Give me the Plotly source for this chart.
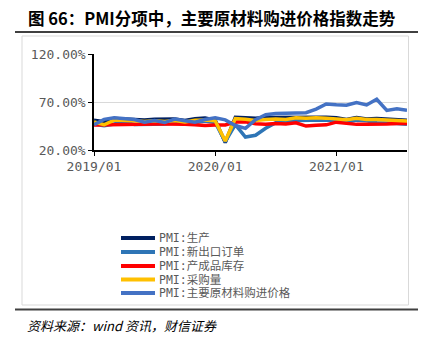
import plotly.graph_objects as go

months = [f"{y}/{m:02d}" for y in (2019, 2020, 2021) for m in range(1, 13)][:32]
tick_labels = ["2019/01", "2020/01", "2021/01"]
y_ticks = [20, 70, 120]
y_tick_text = ["20.00%", "70.00%", "120.00%"]

names = ["PMI:生产", "PMI:新出口订单", "PMI:产成品库存", "PMI:采购量", "PMI:主要原材料购进价格"]
colors = ["#002060", "#2E75B6", "#FF0000", "#FFC000", "#4472C4"]

production = [50.9, 49.5, 52.7, 52.1, 51.7, 51.3, 52.1, 51.9, 52.3, 50.8, 52.6, 53.2,
              51.3, 27.8, 54.1, 53.7, 53.2, 53.9, 54.0, 53.5, 54.0, 53.9, 54.7, 54.2,
              53.5, 51.9, 53.9, 52.2, 52.7, 51.9, 50.9, 50.9]
export_orders = [46.9, 45.2, 47.1, 49.2, 46.5, 46.3, 46.9, 47.2, 48.2, 47.0, 48.8, 50.3,
                 48.7, 28.7, 46.4, 33.5, 35.3, 42.6, 48.4, 49.1, 50.8, 51.0, 51.5, 51.3,
                 50.2, 48.8, 51.2, 50.4, 48.3, 48.1, 47.7, 46.7]
inventory = [46.1, 46.4, 46.4, 46.5, 46.5, 47.1, 47.1, 47.0, 47.1, 46.7, 46.4, 45.6,
             46.0, 46.1, 49.1, 49.3, 47.3, 46.8, 47.6, 47.1, 48.4, 44.9, 45.7, 46.2,
             49.0, 48.0, 46.7, 46.8, 46.5, 47.1, 47.6, 47.7]
purchases = [49.1, 46.3, 51.2, 51.1, 50.5, 49.7, 50.4, 49.7, 50.6, 49.1, 51.0, 51.3,
             50.4, 29.3, 52.7, 52.0, 50.8, 51.8, 52.4, 51.7, 53.6, 53.1, 53.7, 53.2,
             52.0, 51.6, 53.1, 51.7, 51.9, 51.7, 50.8, 50.3]
input_price = [46.3, 51.9, 53.5, 53.1, 51.8, 49.0, 50.7, 48.6, 52.2, 50.4, 49.0, 51.8,
               53.5, 51.4, 45.5, 42.5, 51.6, 56.8, 58.1, 58.3, 58.5, 58.8, 62.6, 68.0,
               67.1, 66.7, 69.4, 66.9, 72.8, 61.2, 62.9, 61.3]
series = [production, export_orders, inventory, purchases, input_price]

W, H = 429, 338
X0, X1, YT, YB = 94, 407, 54, 150


def px(x):
    return (x - X0) / (X1 - X0)


def py(y):
    return (YB - y) / (YB - YT)


fig = go.Figure()
for name, vals, c in zip(names, series, colors):
    fig.add_trace(go.Scatter(x=months, y=vals, mode="lines", name=name,
                             line=dict(color=c, width=3.5), showlegend=False))

tick_font = dict(family="DejaVu Sans Mono, Noto Sans CJK SC", size=13, color="#595959")

fig.update_layout(
    width=W, height=H,
    margin=dict(l=X0, r=W - X1, t=YT, b=H - YB),
    paper_bgcolor="white", plot_bgcolor="white",
    xaxis=dict(type="category", range=[0, len(months) - 1], tickmode="array",
               tickvals=tick_labels, ticktext=tick_labels, showgrid=False,
               showline=True, linecolor="black", linewidth=1.5,
               ticks="outside", ticklen=4, tickcolor="black", tickfont=tick_font),
    yaxis=dict(range=[20, 120], tickmode="array", tickvals=y_ticks, ticktext=y_tick_text,
               showgrid=True, gridcolor="#d9d9d9", gridwidth=1, zeroline=False,
               showline=True, linecolor="black", linewidth=1.5,
               ticks="outside", ticklen=4, tickcolor="black", tickfont=tick_font),
)

shapes = [
    dict(type="line", xref="paper", yref="paper", x0=px(15), x1=px(418), y0=py(32), y1=py(32),
         line=dict(color="#404040", width=2)),
    dict(type="line", xref="paper", yref="paper", x0=px(15), x1=px(418), y0=py(309.5), y1=py(309.5),
         line=dict(color="#404040", width=2)),
    dict(type="rect", xref="paper", yref="paper", x0=px(22), x1=px(408.5), y0=py(36), y1=py(305),
         line=dict(color="#d9d9d9", width=1), layer="below"),
]
annotations = [
    dict(text="<b>图 66：PMI分项中，主要原材料购进价格指数走势</b>", xref="paper", yref="paper",
         x=px(26), y=py(18), xanchor="left", yanchor="middle", showarrow=False,
         font=dict(family="Noto Sans CJK SC", size=16.5, color="black")),
    dict(text="<i>资料来源：wind 资讯，财信证券</i>", xref="paper", yref="paper",
         x=px(25), y=py(325), xanchor="left", yanchor="middle", showarrow=False,
         font=dict(family="Noto Sans CJK SC", size=13, color="black")),
]
rows = [238, 252, 266, 279.5, 293]
for name, c, ry in zip(names, colors, rows):
    shapes.append(dict(type="line", xref="paper", yref="paper", x0=px(121), x1=px(155),
                       y0=py(ry), y1=py(ry), line=dict(color=c, width=4)))
    annotations.append(dict(text=name, xref="paper", yref="paper", x=px(157), y=py(ry),
                            xanchor="left", yanchor="middle", showarrow=False,
                            font=dict(family="DejaVu Sans Mono, Noto Sans CJK SC", size=11.5,
                                      color="#595959")))
fig.update_layout(shapes=shapes, annotations=annotations)
fig.write_html("out.html")
